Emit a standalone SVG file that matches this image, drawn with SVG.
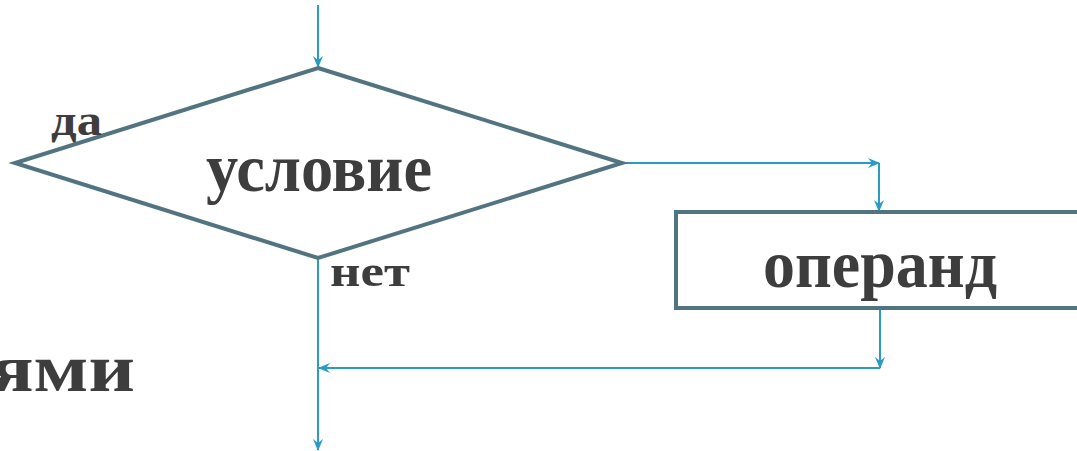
<svg xmlns="http://www.w3.org/2000/svg" width="1077" height="451" viewBox="0 0 1077 451">
  <style>
    .shape { fill: none; stroke: #527481; stroke-width: 4; stroke-linejoin: miter; }
    .link { fill: none; stroke: #2a9bc6; stroke-width: 2; }
    .big { font-family: "Liberation Serif", "Times New Roman", serif; font-weight: bold; font-size: 68px; fill: #3d3d3d; }
    .small { font-family: "Liberation Serif", "Times New Roman", serif; font-weight: bold; font-size: 44px; fill: #3d3d3d; }
  </style>
  <defs>
    <marker id="arrow" viewBox="0 0 12 10" refX="11" refY="5" markerWidth="12" markerHeight="10" markerUnits="userSpaceOnUse" orient="auto">
      <path d="M0,0 L12,5 L0,10 L4,5 Z" fill="#2a9bc6"/>
    </marker>
  </defs>

  <rect width="1077" height="451" fill="#ffffff"/>

  <!-- heading fragment, running off the left edge -->
  <text class="big" x="-10" y="391" font-size="76" textLength="145" lengthAdjust="spacingAndGlyphs">ями</text>

  <!-- connectors -->
  <g id="connectors">
    <line class="link" x1="318" y1="5" x2="318" y2="67" marker-end="url(#arrow)"/>
    <polyline class="link" points="622,163 879,163" marker-end="url(#arrow)"/>
    <line class="link" x1="879" y1="163" x2="879" y2="211" marker-end="url(#arrow)"/>
    <line class="link" x1="880" y1="309" x2="880" y2="368" marker-end="url(#arrow)"/>
    <line class="link" x1="880" y1="368" x2="319" y2="368" marker-end="url(#arrow)"/>
    <line class="link" x1="318" y1="258" x2="318" y2="450" marker-end="url(#arrow)"/>
  </g>

  <!-- decision node -->
  <g id="condition">
    <polygon class="shape" points="318,68 622,163 318,258 15,163"/>
    <text class="big" x="206" y="191" textLength="226" lengthAdjust="spacingAndGlyphs">условие</text>
    <text class="small" x="51" y="135" textLength="51" lengthAdjust="spacingAndGlyphs">да</text>
    <text class="small" x="330" y="286" textLength="80" lengthAdjust="spacingAndGlyphs">нет</text>
  </g>

  <!-- process node -->
  <g id="operand">
    <rect class="shape" x="676" y="212" width="420" height="96"/>
    <text class="big" x="763" y="287" textLength="234" lengthAdjust="spacingAndGlyphs">операнд</text>
  </g>
</svg>
